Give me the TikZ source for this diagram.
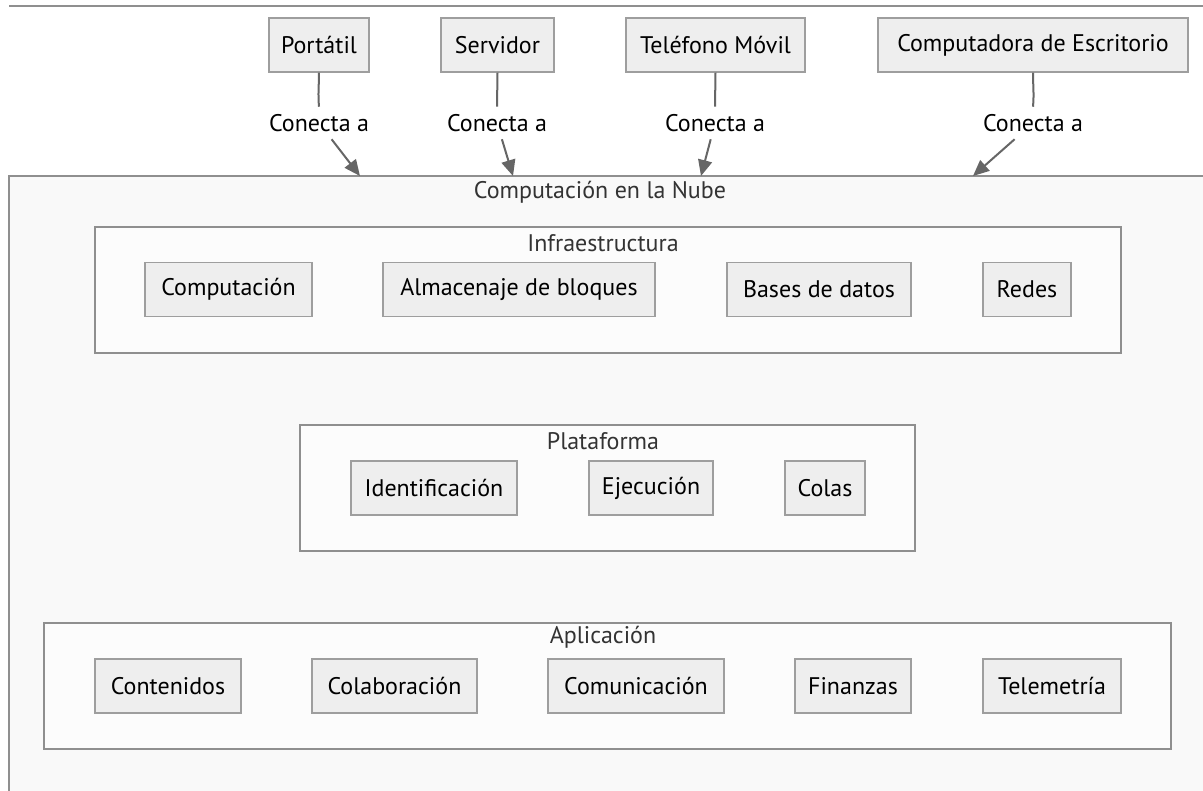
\documentclass[tikz,border=0pt]{standalone}
\usepackage{fontspec}
\setmainfont{PT Sans}
\usetikzlibrary{arrows.meta}

\definecolor{nodefill}{HTML}{EEEEEE}
\definecolor{nodeline}{HTML}{9E9E9E}
\definecolor{groupline}{HTML}{8F8F8F}
\definecolor{cloudfill}{HTML}{F9F9F9}
\definecolor{groupfill}{HTML}{FCFCFC}
\definecolor{edgecol}{HTML}{666666}
\definecolor{titlecol}{HTML}{333333}

\newcommand{\txtsize}{\fontsize{18pt}{21pt}\selectfont}

\tikzset{
  svc/.style={draw=nodeline, fill=nodefill, line width=0.9pt, inner sep=0pt,
              minimum height=54*0.75pt, minimum width=#1*0.75pt,
              font=\txtsize, text=black},
  group/.style={draw=groupline, fill=groupfill, line width=1pt},
  grouptitle/.style={font=\txtsize, text=titlecol, inner sep=0pt},
  edgelabel/.style={font=\txtsize, text=black, inner sep=0pt,
                    minimum height=32*0.75pt},
  link/.style={draw=edgecol, line width=1.5pt},
  linkarrow/.style={link, -{Triangle[length=12pt, width=10.5pt]}}
}

\begin{document}
\begin{tikzpicture}[x=0.75pt, y=-0.75pt]
  \useasboundingbox (0,0) rectangle (1203,791);
  \clip (0,0) rectangle (1203,791);
  \fill[white] (0,0) rectangle (1203,791);

  % outer frame line
  \draw[groupline, line width=1pt] (9,6) -- (1210,6);

  % cloud region
  \draw[draw=groupline, fill=cloudfill, line width=1pt] (9,176) rectangle (1215,805);
  \node[grouptitle] (cloudtitle) at (600,192) {Computación en la Nube};

  % Infraestructura
  \draw[group] (95,227) rectangle (1121,353);
  \node[grouptitle] (infratitle) at (603,243) {Infraestructura};
  \node[svc=167] (comp)  at (228.5,289.5) {Computación};
  \node[svc=272] (alm)   at (519,289.5)   {Almacenaje de bloques};
  \node[svc=184] (bases) at (819,289.5)   {Bases de datos};
  \node[svc=88]  (redes) at (1027,289.5)  {Redes};

  % Plataforma
  \draw[group] (300,425) rectangle (915,551);
  \node[grouptitle] (plattitle) at (603,441) {Plataforma};
  \node[svc=166] (ident) at (434,488) {Identificación};
  \node[svc=124] (ejec)  at (651,488) {Ejecución};
  \node[svc=80]  (colas) at (825,488) {Colas};

  % Aplicación
  \draw[group] (44,623) rectangle (1171,749);
  \node[grouptitle] (apptitle) at (603,637) {Aplicación};
  \node[svc=146] (cont)  at (168,686)   {Contenidos};
  \node[svc=165] (colab) at (394.5,686) {Colaboración};
  \node[svc=176] (comun) at (636,686)   {Comunicación};
  \node[svc=116] (fin)   at (853,686)   {Finanzas};
  \node[svc=138] (tele)  at (1052,686)  {Telemetría};

  % devices
  \node[svc=100] (port) at (319,45)    {Portátil};
  \node[svc=113] (serv) at (497.5,45)  {Servidor};
  \node[svc=179] (tel)  at (715.5,45)  {Teléfono Móvil};
  \node[svc=310] (desk) at (1033,45)   {Computadora de Escritorio};

  % edge labels
  \node[edgelabel] (l1) at (319,123)  {Conecta a};
  \node[edgelabel] (l2) at (497,123)  {Conecta a};
  \node[edgelabel] (l3) at (715,123)  {Conecta a};
  \node[edgelabel] (l4) at (1033,123) {Conecta a};

  % arrow ends on the cloud border
  \coordinate (t1) at (360,176);
  \coordinate (t2) at (513,176);
  \coordinate (t3) at (701,176);
  \coordinate (t4) at (973,176);

  % connectors
  \draw[link] (port.south) to[out=-90, in=95] (l1.north);
  \draw[linkarrow] (l1) -- (t1);
  \draw[link] (serv.south) -- (l2.north);
  \draw[linkarrow] (l2) -- (t2);
  \draw[link] (tel.south) -- (l3.north);
  \draw[linkarrow] (l3) -- (t3);
  \draw[link] (desk.south) to[out=-90, in=85] (l4.north);
  \draw[linkarrow] (l4) -- (t4);
\end{tikzpicture}
\end{document}
